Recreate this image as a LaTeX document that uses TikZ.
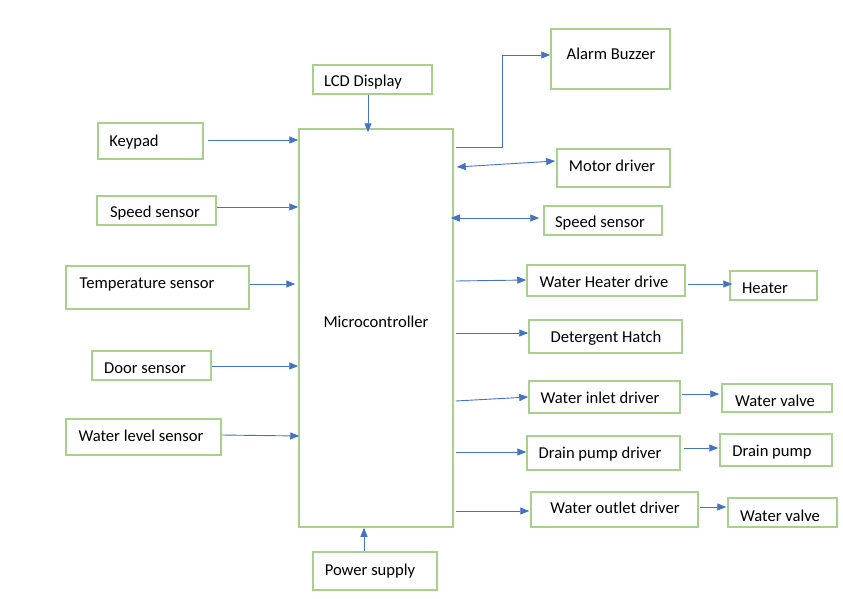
\documentclass[tikz,border=0pt]{standalone}
\usepackage{fontspec}
\setmainfont{Carlito}
\usetikzlibrary{arrows.meta,fit}
\definecolor{boxgreen}{HTML}{A9D18E}
\definecolor{lineblue}{HTML}{4472C4}
\tikzset{
  box/.style={draw=boxgreen, line width=1.5pt, inner sep=0pt, fill=white},
  lbl/.style={inner sep=0pt, text height=1.5ex, text depth=.3ex, font=\fontsize{16.6}{19}\selectfont, text=black, yshift=-3pt},
  arr/.style={draw=lineblue, line width=0.9pt, -{Triangle[length=9pt,width=7pt]}},
  darr/.style={draw=lineblue, line width=0.9pt, {Triangle[length=9pt,width=7pt]}-{Triangle[length=9pt,width=7pt]}}
}
\newcommand{\bx}[5]{\node[box, fit={(#2,#3) (#4,#5)}] (#1) {};}
\begin{document}
\begin{tikzpicture}[x=1pt,y=-1pt]
\useasboundingbox (0,0) rectangle (843,598);
% boxes
\bx{mc}{299}{129}{453}{527}
\bx{lcd}{313}{65}{432}{94}
\bx{alarm}{551}{29}{670}{89}
\bx{motor}{557}{149}{670}{187}
\bx{spdr}{544}{206}{662}{235}
\bx{heatdrv}{527}{265}{685}{296}
\bx{heater}{730}{271}{817}{300}
\bx{det}{529}{320}{682}{353}
\bx{inlet}{529}{381}{680}{413}
\bx{valvea}{722}{384}{832}{412}
\bx{drain}{527}{436}{680}{470}
\bx{pump}{720}{434}{832}{466}
\bx{outlet}{531}{492}{698}{527}
\bx{valveb}{728}{498}{837}{527}
\bx{power}{313}{552}{437}{590}
\bx{keypad}{98}{123}{203}{159}
\bx{spdl}{97}{196}{216}{225}
\bx{temp}{66}{266}{249}{309}
\bx{door}{92}{351}{211}{380}
\bx{level}{66}{419}{221}{455}
% labels
\node[lbl] (mc-t) at (376,322) {Microcontroller};
\node[lbl] (lcd-t) at (363,81) {LCD Display};
\node[lbl] (alarm-t) at (611,54) {Alarm Buzzer};
\node[lbl] (motor-t) at (612,166) {Motor driver};
\node[lbl] (spdr-t) at (600,222) {Speed sensor};
\node[lbl] (heatdrv-t) at (604,282) {Water Heater drive};
\node[lbl] (heater-t) at (765,288) {Heater};
\node[lbl] (det-t) at (606,337) {Detergent Hatch};
\node[lbl] (inlet-t) at (600,398) {Water inlet driver};
\node[lbl] (valvea-t) at (775,401) {Water valve};
\node[lbl] (drain-t) at (600,453) {Drain pump driver};
\node[lbl] (pump-t) at (772,451) {Drain pump};
\node[lbl] (outlet-t) at (615,508) {Water outlet driver};
\node[lbl] (valveb-t) at (780,516) {Water valve};
\node[lbl] (power-t) at (370,570) {Power supply};
\node[lbl] (keypad-t) at (134,141) {Keypad};
\node[lbl] (spdl-t) at (155,212) {Speed sensor};
\node[lbl] (temp-t) at (147,283) {Temperature sensor};
\node[lbl] (door-t) at (145,368) {Door sensor};
\node[lbl] (level-t) at (141,436) {Water level sensor};
% coordinates
\coordinate (abend1) at (502,147);
\coordinate (abend2) at (502,55);
% connectors, inputs
\draw[arr] ([xshift=4pt]keypad.east |- 0,140) -- (mc.west |- 0,140);
\draw[arr] (spdl.east |- 0,207) -- (mc.west |- 0,207);
\draw[arr] (temp.east |- 0,284) -- ([xshift=-3pt]mc.west |- 0,284);
\draw[arr] (door.east |- 0,366) -- (mc.west |- 0,366);
\draw[arr] (level.east |- 0,435) -- ([xshift=1pt]mc.west |- 0,436);
\draw[arr] (lcd.south -| 368,0) -- ([yshift=-4pt]mc.north -| 368,0);
\draw[arr] (power.north -| 364,0) -- (mc.south -| 364,0);
% outputs
\draw[arr] ([xshift=2pt]mc.east |- 0,147) -- (abend1) -- (abend2) -- (alarm.west |- 0,55);
\draw[darr] ([xshift=3pt]mc.east |- 0,167) -- ([xshift=-1pt]motor.west |- 0,161);
\draw[darr] ([xshift=-3pt]mc.east |- 0,218) -- ([xshift=-4pt]spdr.west |- 0,218);
\draw[arr] ([xshift=2pt]mc.east |- 0,281) -- (heatdrv.west |- 0,280);
\draw[arr] ([xshift=2pt]heatdrv.east |- 0,284) -- ([xshift=3pt]heater.west |- 0,284);
\draw[arr] ([xshift=2pt]mc.east |- 0,333) -- (det.west |- 0,333);
\draw[arr] ([xshift=2pt]mc.east |- 0,401) -- (inlet.west |- 0,397);
\draw[arr] ([xshift=1pt]inlet.east |- 0,394) -- ([xshift=-2pt]valvea.west |- 0,394);
\draw[arr] ([xshift=2pt]mc.east |- 0,452) -- (drain.west |- 0,452);
\draw[arr] ([xshift=3pt]drain.east |- 0,448) -- ([xshift=-1pt]pump.west |- 0,448);
\draw[arr] ([xshift=2pt]mc.east |- 0,511) -- ([xshift=-1pt]outlet.west |- 0,511);
\draw[arr] ([xshift=1pt]outlet.east |- 0,507) -- ([xshift=-1pt]valveb.west |- 0,507);
\end{tikzpicture}
\end{document}
